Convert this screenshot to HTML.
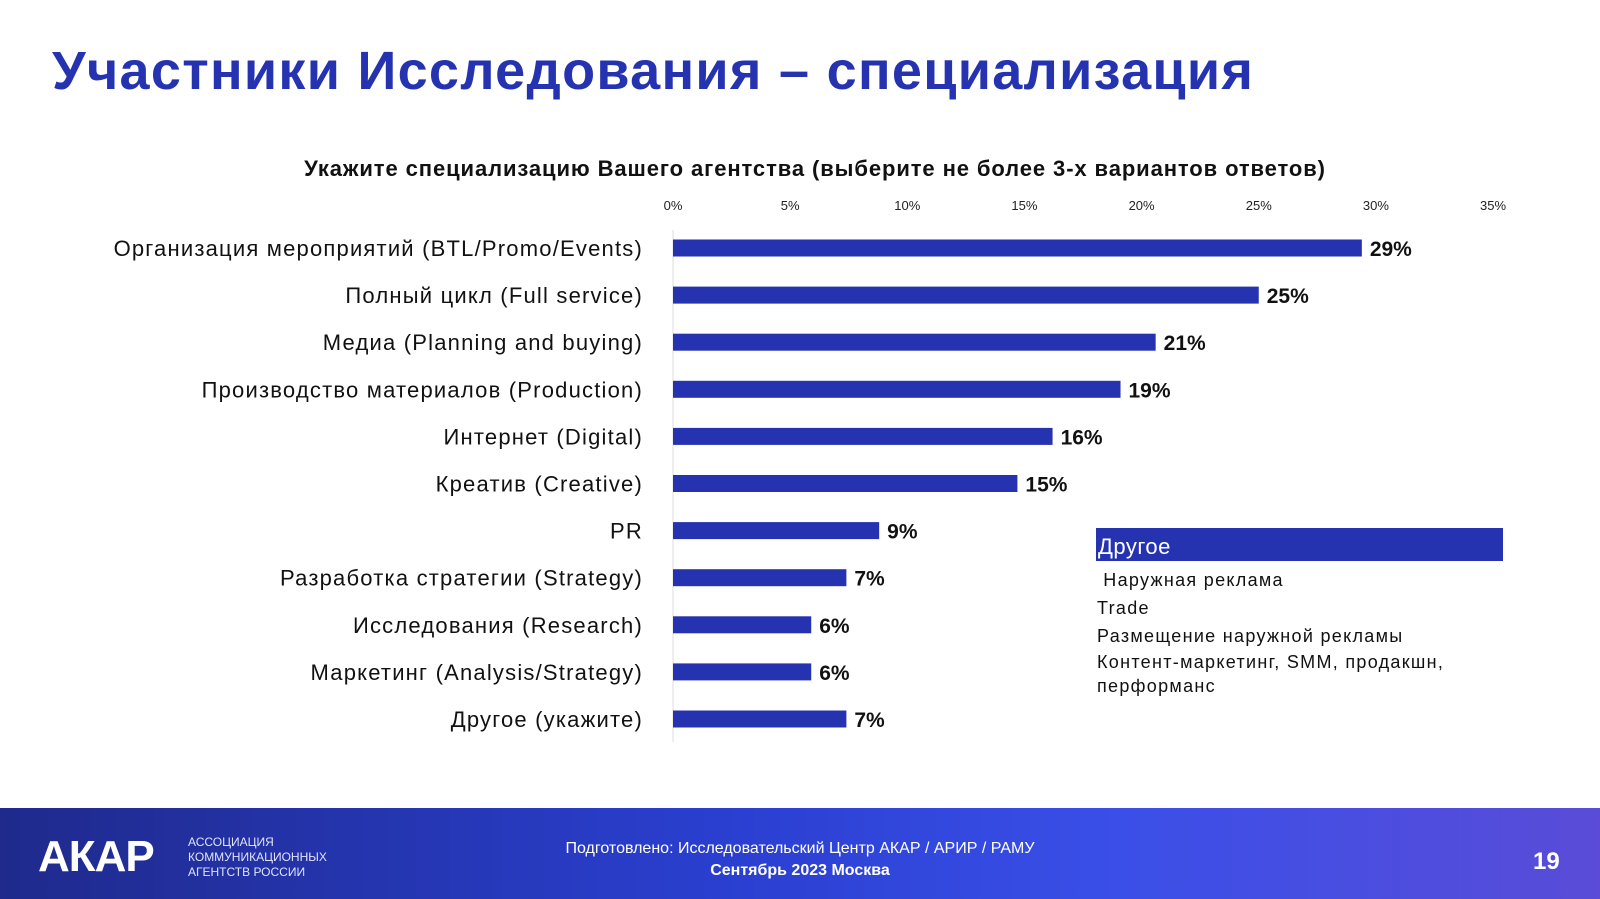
<!DOCTYPE html>
<html><head><meta charset="utf-8"><style>
body{margin:0;width:1600px;height:899px;background:#fff;position:relative;overflow:hidden;font-family:"Liberation Sans","DejaVu Sans",sans-serif}
.abs{position:absolute}
</style></head><body>
<div class="abs" style="left:52px;top:40px;font-size:54px;font-weight:bold;color:#2533b0;letter-spacing:1.3px;white-space:nowrap">Участники Исследования – специализация</div>
<div class="abs" style="left:0;width:1600px;text-align:center;top:156px;font-size:22px;font-weight:bold;color:#111;padding-left:30px;box-sizing:border-box;letter-spacing:0.9px;white-space:nowrap">Укажите специализацию Вашего агентства (выберите не более 3-х вариантов ответов)</div>
<svg class="abs" style="left:0;top:0" width="1600" height="800" id="chart"></svg>
<div class="abs" style="left:1096px;top:528px;width:405px;height:33px;background:#2533b0;color:#fff;font-size:22px;line-height:38px;padding-left:2px;letter-spacing:0.5px">Другое</div>
<div class="abs" style="left:1097px;top:566px;font-size:18px;line-height:28px;color:#111;width:400px;letter-spacing:1.3px">
<div>&nbsp;Наружная реклама</div><div>Trade</div><div>Размещение наружной рекламы</div><div style="line-height:24px">Контент-маркетинг, SMM, продакшн, перформанс</div></div>
<div class="abs" style="left:0;top:808px;width:1600px;height:91px;background:linear-gradient(90deg,#1f2a8c 0%,#2a3fd0 45%,#3a4fe8 70%,#5a4cd8 100%)"></div>
<div class="abs" style="left:38px;top:832px;font-size:44px;font-weight:bold;color:#fff;letter-spacing:-1px">АКАР</div>
<div class="abs" style="left:188px;top:835px;font-size:12px;line-height:15px;color:#dfe3ff">АССОЦИАЦИЯ<br>КОММУНИКАЦИОННЫХ<br>АГЕНТСТВ РОССИИ</div>
<div class="abs" style="left:0;width:1600px;text-align:center;top:838px;font-size:16px;color:#fff;line-height:22px;padding-left:0;box-sizing:border-box">Подготовлено: Исследовательский Центр АКАР / АРИР / РАМУ<br><b>Сентябрь 2023 Москва</b></div>
<div class="abs" style="left:1533px;top:848px;font-size:24px;font-weight:bold;color:#fff">19</div>
<script>
const categories=["Организация мероприятий (BTL/Promo/Events)","Полный цикл (Full service)","Медиа (Planning and buying)","Производство материалов (Production)","Интернет (Digital)","Креатив (Creative)","PR","Разработка стратегии (Strategy)","Исследования (Research)","Маркетинг (Analysis/Strategy)","Другое (укажите)"];
const values=[29.4,25,20.6,19.1,16.2,14.7,8.8,7.4,5.9,5.9,7.4];
const labels=["29%","25%","21%","19%","16%","15%","9%","7%","6%","6%","7%"];
const ticks=[0,5,10,15,20,25,30,35];
const svg=document.getElementById('chart');const NS='http://www.w3.org/2000/svg';
const x0=673,pp=23.43,y0=248,step=47.1,bh=17;
const X=v=>x0+v*pp, Y=i=>y0+i*step;
function mk(t,a){const e=document.createElementNS(NS,t);for(const k in a)e.setAttribute(k,a[k]);svg.appendChild(e);return e;}
const ax=mk('line',{x1:x0,x2:x0,y1:230,y2:742,stroke:'#ddd','stroke-width':1});


ticks.forEach(t=>{const e=mk('text',{x:X(t),y:210,'text-anchor':'middle','font-size':13,fill:'#222'});e.textContent=t+'%';

});
categories.forEach((c,i)=>{
const l=mk('text',{x:643,y:Y(i)+8,'text-anchor':'end','font-size':22,'letter-spacing':1.2,fill:'#111'});l.textContent=c;


const r=mk('rect',{x:x0,y:Y(i)-bh/2,width:X(values[i])-x0,height:bh,fill:'#2533b0'});


const v=mk('text',{x:X(values[i])+8,y:Y(i)+8,'font-size':21,'font-weight':'bold',fill:'#111'});v.textContent=labels[i];


});
</script>
</body></html>
